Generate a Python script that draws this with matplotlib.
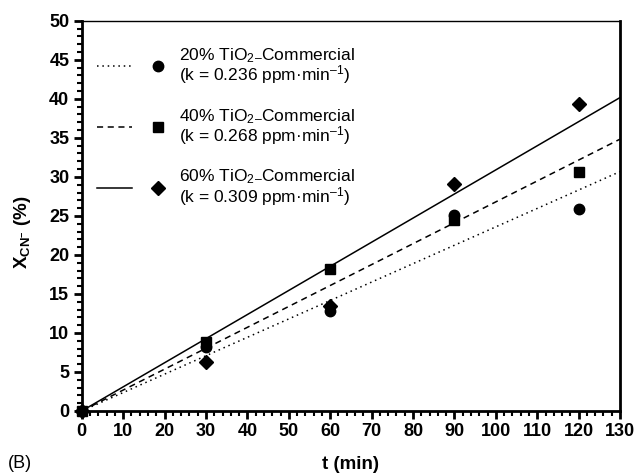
import matplotlib
matplotlib.use("Agg")
import matplotlib.pyplot as plt
import numpy as np
from matplotlib.legend_handler import HandlerTuple
from matplotlib.ticker import MultipleLocator

plt.rcParams['font.family'] = ['Liberation Sans', 'DejaVu Sans']
plt.rcParams['font.weight'] = 'bold'
plt.rcParams['mathtext.fontset'] = 'custom'
plt.rcParams['mathtext.rm'] = 'Liberation Sans:weight=normal'
plt.rcParams['mathtext.bf'] = 'Liberation Sans:weight=bold'
plt.rcParams['mathtext.it'] = 'Liberation Sans:style=italic:weight=normal'

t = [0, 30, 60, 90, 120]
x20 = [0, 8.2, 12.8, 25.1, 25.9]
x40 = [0, 8.9, 18.2, 24.5, 30.6]
x60 = [0, 6.3, 13.5, 29.1, 39.4]
k_vals = [0.236, 0.268, 0.309]
labels = ["20% TiO$_{\\mathrm{2}}$$_{\\mathrm{\u2013}}$Commercial\n(k = 0.236 ppm\u00b7min$^{\\mathrm{\u20131}}$)",
          "40% TiO$_{\\mathrm{2}}$$_{\\mathrm{\u2013}}$Commercial\n(k = 0.268 ppm\u00b7min$^{\\mathrm{\u20131}}$)",
          "60% TiO$_{\\mathrm{2}}$$_{\\mathrm{\u2013}}$Commercial\n(k = 0.309 ppm\u00b7min$^{\\mathrm{\u20131}}$)"]
t_fit = [0, 130]

fig = plt.figure(figsize=(6.34, 4.74), dpi=100)
ax = fig.add_axes([0.129, 0.133, 0.849, 0.823])

series = [x20, x40, x60]
markers = ['o', 's', 'D']
msizes = [7.5, 6.8, 6.8]
styles = [(0, (1, 2.5)), (0, (4, 3)), '-']
handles = []
for ys, k, m, ms, ls in zip(series, k_vals, markers, msizes, styles):
    fit = [k * v for v in t_fit]
    ln, = ax.plot(t_fit, fit, color='black', linestyle=ls, linewidth=1.1)
    pt, = ax.plot(t, ys, linestyle='none', marker=m, markersize=ms, color='black', clip_on=False, zorder=5)
    handles.append((ln, pt))

ax.set_xlim(0, 130)
ax.set_ylim(0, 50)
ax.xaxis.set_major_locator(MultipleLocator(10))
ax.xaxis.set_minor_locator(MultipleLocator(2))
ax.yaxis.set_major_locator(MultipleLocator(5))
ax.yaxis.set_minor_locator(MultipleLocator(1))
ax.tick_params(which='major', direction='out', length=6, width=2, labelsize=13, pad=3)
ax.tick_params(which='minor', direction='out', length=3.5, width=1.5)
for s in ['left', 'bottom', 'right']:
    ax.spines[s].set_linewidth(2)
ax.spines['top'].set_linewidth(1)

ax.set_xlabel('t (min)', fontsize=13.5, fontweight='bold', labelpad=11)
ax.set_ylabel(r'$\mathbf{X_{CN^{-}}}$ (%)', fontsize=13.5, fontweight='bold')
ax.yaxis.set_label_coords(-0.09, 0.459)

leg = ax.legend(handles, labels, handler_map={tuple: HandlerTuple(ndivide=None, pad=0.49)},
                loc='upper left', bbox_to_anchor=(-0.0156, 0.995), frameon=False,
                handlelength=4.5, handletextpad=0.26,
                prop={'size': 12.5, 'weight': 'normal'}, labelspacing=1.2,
                borderaxespad=0.95)
for txt in leg.get_texts():
    txt.set_linespacing(0.9)

fig.text(0.012, 0.004, '(B)', fontsize=13, fontweight='normal', ha='left', va='bottom')

fig.savefig('out.png', dpi=100)
